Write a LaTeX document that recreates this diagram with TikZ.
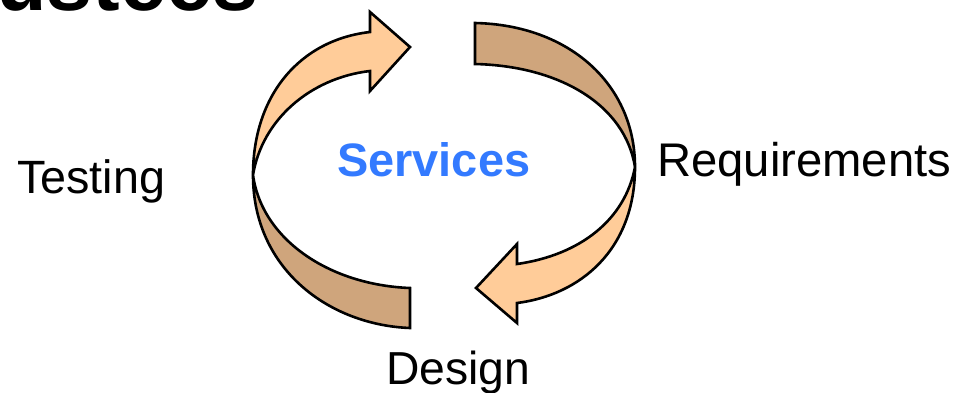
\documentclass[tikz,border=0pt]{standalone}
\usepackage{fontspec}
\setmainfont{Liberation Sans}
\usepackage{graphicx}
\definecolor{peach}{RGB}{255,204,153}
\definecolor{ribbontan}{RGB}{207,165,124}
\definecolor{svcblue}{RGB}{51,122,255}
\begin{document}
\begin{tikzpicture}[x=1pt,y=-1pt,
  ribbon/.style={draw=black, line width=2.6pt, line join=miter},
  lbl/.style={inner sep=0pt, anchor=base west}]
\useasboundingbox (0,0) rectangle (970,392);
\clip (0,0) rectangle (970,392);
% title (cut off)
\node[lbl] (title) at (-4,10) {\resizebox{262pt}{!}{\bfseries ustees}};
% left arrow: back part (tan)
\draw[ribbon, fill=ribbontan] (253,175) .. controls (253,270) and (330,325) .. (410,328)
  -- (410,288) .. controls (330,285) and (262,240) .. (253,175) -- cycle;
% left arrow: front part (peach)
\draw[ribbon, fill=peach] (253,175) .. controls (253,95) and (300,40) .. (370,32)
  -- (370,12) -- (410,47) -- (370,91) -- (370,71)
  .. controls (310,78) and (262,120) .. (253,175) -- cycle;
% right arrow: back part (tan)
\draw[ribbon, fill=ribbontan] (475,23) .. controls (570,25) and (635,85) .. (635,167)
  .. controls (625,105) and (560,66) .. (475,64) -- cycle;
% right arrow: front part (peach)
\draw[ribbon, fill=peach] (635,167) .. controls (635,250) and (580,295) .. (517,303)
  -- (517,323) -- (476,288) -- (517,244) -- (517,264)
  .. controls (580,255) and (625,220) .. (635,167) -- cycle;
% labels
\node[lbl] (testing) at (17,193) {\resizebox{148pt}{!}{Testing}};
\node[lbl] (services) at (337,176) {\resizebox{193pt}{!}{\bfseries\color{svcblue}Services}};
\node[lbl] (requirements) at (657,176) {\resizebox{294pt}{!}{Requirements}};
\node[lbl] (design) at (386,384) {\resizebox{144pt}{!}{Design}};
\end{tikzpicture}
\end{document}
